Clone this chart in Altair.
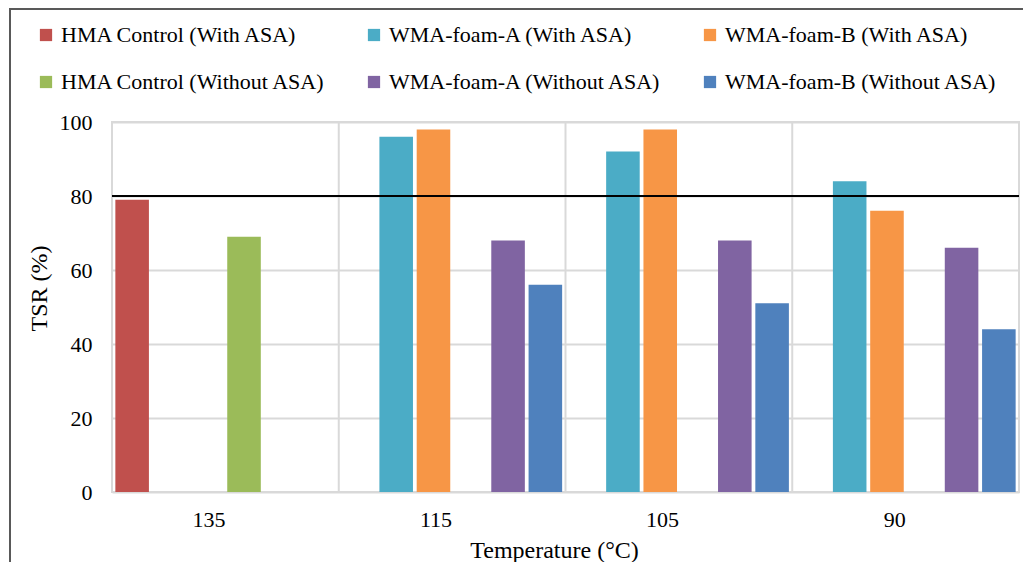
import altair as alt
import pandas as pd

temperatures = ["135", "115", "105", "90"]
series = [
    "HMA Control (With ASA)",
    "WMA-foam-A (With ASA)",
    "WMA-foam-B (With ASA)",
    "HMA Control (Without ASA)",
    "WMA-foam-A (Without ASA)",
    "WMA-foam-B (Without ASA)",
]
colors = ["#C0504D", "#4BACC6", "#F79646", "#9BBB59", "#8064A2", "#4F81BD"]

hma_with = [79, None, None, None]
wma_a_with = [None, 96, 92, 84]
wma_b_with = [None, 98, 98, 76]
hma_without = [69, None, None, None]
wma_a_without = [None, 68, 68, 66]
wma_b_without = [None, 56, 51, 44]
threshold = 80

values = [hma_with, wma_a_with, wma_b_with, hma_without, wma_a_without, wma_b_without]
rows = []
for s, vals in zip(series, values):
    for t, v in zip(temperatures, vals):
        if v is not None:
            rows.append({"Temperature": t, "Series": s, "TSR": v})
df = pd.DataFrame(rows)
cats = pd.DataFrame({"Temperature": temperatures})

FONT = "Liberation Serif"

x_scale = alt.Scale(domain=temperatures, paddingInner=0, paddingOuter=0)

grid_v = alt.Chart(cats).mark_rule(color="#d9d9d9", strokeWidth=2).encode(
    x=alt.X("Temperature:N", scale=x_scale, bandPosition=0, sort=temperatures)
)

bars = alt.Chart(df).mark_bar().encode(
    x=alt.X(
        "Temperature:N",
        scale=x_scale,
        sort=temperatures,
        axis=alt.Axis(
            title="Temperature (°C)",
            labelAngle=0,
            ticks=False,
            domain=False,
            labelPadding=27,
            titlePadding=8,
            titleX=442,
        ),
    ),
    xOffset=alt.XOffset(
        "Series:N",
        scale=alt.Scale(domain=series, paddingInner=0.1, paddingOuter=0.09),
    ),
    y=alt.Y(
        "TSR:Q",
        scale=alt.Scale(domain=[0, 100]),
        axis=alt.Axis(
            title="TSR (%)",
            values=[0, 20, 40, 60, 80, 100],
            ticks=False,
            domain=False,
            labelPadding=20,
            titlePadding=8,
            titleY=166,
            gridColor="#d9d9d9",
            gridWidth=2,
        ),
    ),
    color=alt.Color(
        "Series:N",
        scale=alt.Scale(domain=series, range=colors),
        legend=alt.Legend(
            title=None,
            orient="none",
            direction="horizontal",
            legendX=-77,
            legendY=-98,
            columns=3,
            columnPadding=37,
            rowPadding=25,
            symbolType="square",
            symbolSize=150,
            symbolStrokeWidth=0,
            labelOffset=4,
            labelLimit=400,
            labelFont=FONT,
        ),
    ),
)

line80 = alt.Chart(pd.DataFrame({"y": [threshold]})).mark_rule(
    color="black", strokeWidth=2
).encode(y="y:Q")

border = alt.Chart(cats).mark_rect(
    fill=None, stroke="#595959", strokeWidth=2, clip=False
).encode(
    x=alt.value(-102), x2=alt.value(930), y=alt.value(-113), y2=alt.value(470)
)

chart = alt.layer(grid_v, bars, line80, border).properties(
    width=907,
    height=370,
    autosize=alt.AutoSizeParams(type="none"),
    padding={"left": 104, "top": 114, "right": 4, "bottom": 70},
).configure(
    font=FONT
).configure_view(
    stroke="#d9d9d9", strokeWidth=2
).configure_axis(
    labelFont=FONT,
    titleFont=FONT,
    labelFontSize=22,
    titleFontSize=24,
    labelColor="#000000",
    titleColor="#000000",
    titleFontWeight="normal",
).configure_legend(
    labelFont=FONT, labelFontSize=22, labelColor="#000000"
)

chart.save("out.html", embed_options={"renderer": "svg", "actions": False})
